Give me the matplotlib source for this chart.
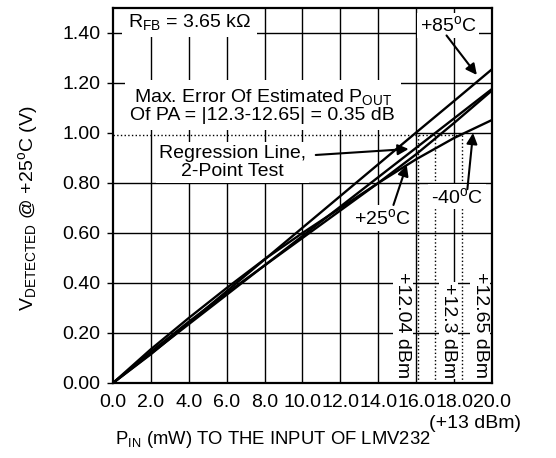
import numpy as np
import matplotlib
matplotlib.use('Agg')
import matplotlib.pyplot as plt

plt.rcParams['font.family'] = ['Liberation Sans', 'DejaVu Sans']
plt.rcParams['mathtext.fontset'] = 'custom'
plt.rcParams['mathtext.rm'] = 'Liberation Sans'
plt.rcParams['mathtext.it'] = 'Liberation Sans:italic'
plt.rcParams['mathtext.bf'] = 'Liberation Sans:bold'

# P_IN (mW) vs detected voltage
p_in = [0, 2, 4, 6, 8, 10, 12, 14, 16, 18, 20]
v_85 = [0, 0.115, 0.24, 0.367, 0.494, 0.621, 0.748, 0.875, 1.002, 1.128, 1.255]
v_25 = [0, 0.125, 0.245, 0.36, 0.47, 0.58, 0.69, 0.80, 0.915, 1.04, 1.17]
v_m40 = [0, 0.135, 0.26, 0.38, 0.495, 0.60, 0.70, 0.80, 0.895, 0.98, 1.052]
reg_p = [0, 20]
reg_v = [0, 1.176]

# where each curve hits 1.00 V
v_target = 1.0
p_marks = [16.1, 17.0, 18.4]
mark_labels = ['+12.04 dBm', '+12.3 dBm', '+12.65 dBm']

x_ticks = np.arange(0, 20.1, 2)
y_ticks = np.arange(0, 1.41, 0.2)

fig = plt.figure(figsize=(5.56, 4.58), dpi=100)
ax = fig.add_axes([0.2032, 0.1638, 0.6817, 0.8188])
ax.set_xlim(0, 20)
ax.set_ylim(0, 1.5)

# grid drawn by hand (the 1.00 line only runs right of 16 mW)
for xv in x_ticks[1:-1]:
    ax.axvline(xv, color='black', lw=1.0, zorder=1)
for yv in y_ticks[1:]:
    if abs(yv - v_target) < 1e-6:
        ax.plot([16, 20], [yv, yv], color='black', lw=1.0, zorder=1)
    else:
        ax.axhline(yv, color='black', lw=1.0, zorder=1)

# dotted markers
ax.plot([0, p_marks[-1]], [v_target - 0.008] * 2, color='black', ls=':', lw=1.0, zorder=2)
for pm in p_marks:
    ax.plot([pm, pm], [0, v_target - 0.008], color='black', ls=':', lw=1.0, zorder=2)

# curves
for v in (v_85, v_25, v_m40):
    ax.plot(p_in, v, color='black', lw=1.7, zorder=3)
ax.plot(reg_p, reg_v, color='black', lw=1.7, zorder=3)

box = dict(facecolor='white', edgecolor='none', pad=2)
fs = 14
ax.text(4.05, 1.445, r'R$_\mathregular{FB}$ = 3.65 k$\Omega$', fontsize=fs,
        ha='center', va='center', bbox=dict(facecolor='white', edgecolor='none', pad=4),
        zorder=4)
ax.text(17.7, 1.43, r'+85$^\mathregular{o}$C', fontsize=fs,
        ha='center', va='center', bbox=box, zorder=4)
ax.text(7.9, 1.11, 'Max. Error Of Estimated P$_\\mathregular{OUT}$\nOf PA = |12.3-12.65| = 0.35 dB',
        fontsize=fs, ha='center', va='center', linespacing=1.0,
        bbox=dict(facecolor='white', edgecolor='none', pad=4), zorder=4)
ax.text(6.3, 0.882, 'Regression Line,\n2-Point Test', fontsize=fs,
        ha='center', va='center', linespacing=1.1, bbox=box, zorder=4)
ax.text(14.2, 0.66, r'+25$^\mathregular{o}$C', fontsize=fs,
        ha='center', va='center', bbox=box, zorder=4)
ax.text(18.15, 0.745, r'-40$^\mathregular{o}$C', fontsize=fs,
        ha='center', va='center', bbox=box, zorder=4)

for xt, yt, lab in zip([15.3, 17.7, 19.37], [0.23, 0.21, 0.23], mark_labels):
    ax.text(xt, yt, lab, fontsize=fs, rotation=270, ha='center', va='center',
            bbox=dict(facecolor='white', edgecolor='none', pad=1), zorder=4)

arrow = dict(arrowstyle='-|>', color='black', lw=1.5, mutation_scale=16,
             shrinkA=0, shrinkB=0)
ax.annotate('', xy=(19.2, 1.232), xytext=(17.6, 1.39), arrowprops=arrow, zorder=5)
ax.annotate('', xy=(15.6, 0.936), xytext=(10.7, 0.912), arrowprops=arrow, zorder=5)
ax.annotate('', xy=(15.5, 0.872), xytext=(14.8, 0.712), arrowprops=arrow, zorder=5)
ax.annotate('', xy=(19.0, 1.0), xytext=(18.7, 0.775), arrowprops=arrow, zorder=5)

for s in ax.spines.values():
    s.set_linewidth(1.6)
    s.set_zorder(6)

ax.set_xticks(x_ticks)
ax.set_xticklabels(['%.1f' % t for t in x_ticks], fontsize=fs)
ax.set_yticks(y_ticks)
ax.set_yticklabels(['%.2f' % t for t in y_ticks], fontsize=fs)
ax.tick_params(axis='x', length=0, pad=8)
ax.tick_params(axis='y', length=4, width=1.0, pad=5)

fig.text(0.49, 0.04, r'P$_\mathregular{IN}$ (mW) TO THE INPUT OF LMV232',
         fontsize=13.3, ha='center', va='center')
fig.text(0.855, 0.076, '(+13 dBm)', fontsize=fs, ha='center', va='center')
fig.text(0.05, 0.546, r'V$_\mathregular{DETECTED}$ @ +25$^\mathregular{o}$C (V)',
         fontsize=fs, rotation=90, ha='center', va='center')

fig.savefig('out.png', dpi=100)
